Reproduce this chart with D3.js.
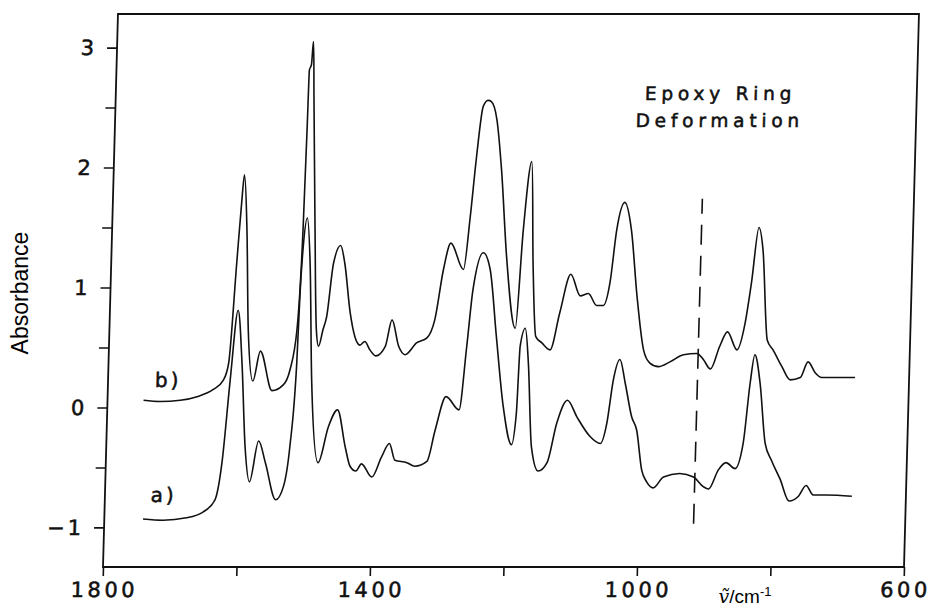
<!DOCTYPE html>
<html>
<meta charset='utf-8'>
<title>Epoxy IR spectra</title>
<style>
  body { margin: 0; background: #fff; }
  .tick text, .plotter { font-family: 'DejaVu Sans', sans-serif; fill: #111; stroke: #111; stroke-width: 0.55; }
  .spec { fill: none; stroke: #111; stroke-width: 1.6; stroke-linejoin: round; }
</style>
<script src='https://d3js.org/d3.v7.min.js'></script>
<body>
<script>

// spectra: [wavenumber /cm-1, absorbance]
var spectrumB = [[1746,0.06],[1721,0.05],[1691,0.06],[1666,0.09],[1642,0.15],[1627,0.23],[1620,0.37],
  [1612,1.20],[1607,1.71],[1604,1.94],[1598,1.48],[1592,0.65],[1583,0.22],[1573,0.47],[1554,0.14],
  [1537,0.19],[1528,0.31],[1519,0.65],[1514,1.48],[1512,2.31],[1511,2.81],[1508,2.86],[1506,3.05],
  [1503,2.59],[1496,1.48],[1490,0.65],[1486,0.51],[1480,0.65],[1475,0.76],[1467,1.20],[1457,1.35],
  [1450,1.20],[1440,0.79],[1432,0.59],[1424,0.52],[1417,0.55],[1409,0.48],[1400,0.43],[1386,0.51],
  [1377,0.73],[1366,0.51],[1356,0.44],[1339,0.54],[1324,0.58],[1313,0.73],[1302,1.15],[1292,1.37],
  [1272,1.15],[1264,1.59],[1257,2.09],[1249,2.51],[1242,2.56],[1237,2.55],[1228,2.40],[1219,1.98],
  [1208,1.26],[1192,0.66],[1184,1.48],[1174,2.05],[1168,1.20],[1161,0.59],[1152,0.54],[1139,0.48],
  [1126,0.79],[1111,1.11],[1096,0.93],[1084,0.95],[1071,0.85],[1061,0.85],[1052,1.04],[1044,1.48],
  [1033,1.71],[1022,1.48],[1011,0.93],[999,0.48],[989,0.37],[976,0.34],[959,0.38],[939,0.44],
  [919,0.45],[909,0.40],[898,0.32],[885,0.51],[874,0.63],[859,0.48],[848,0.70],[840,1.04],
  [831,1.50],[824,1.31],[814,0.56],[805,0.48],[791,0.34],[778,0.23],[763,0.25],[752,0.38],
  [741,0.29],[731,0.25],[709,0.25],[681,0.25]];

var spectrumA = [[1742,-0.93],[1712,-0.94],[1677,-0.92],[1652,-0.87],[1635,-0.77],[1626,-0.46],
  [1617,0.23],[1608,0.81],[1600,0.37],[1592,-0.33],[1584,-0.62],[1572,-0.28],[1561,-0.46],
  [1544,-0.77],[1533,-0.66],[1525,-0.33],[1518,0.37],[1516,0.93],[1513,1.34],[1508,1.58],
  [1502,1.20],[1495,0.23],[1482,-0.46],[1468,-0.16],[1455,-0.02],[1442,-0.33],[1434,-0.49],
  [1425,-0.53],[1417,-0.47],[1401,-0.58],[1387,-0.41],[1376,-0.30],[1367,-0.44],[1349,-0.46],
  [1337,-0.49],[1319,-0.45],[1308,-0.19],[1293,0.09],[1273,-0.02],[1264,0.51],[1257,0.98],
  [1243,1.29],[1232,1.15],[1220,0.59],[1207,0.01],[1193,-0.31],[1187,-0.05],[1184,0.51],
  [1177,0.66],[1171,0.37],[1163,-0.33],[1152,-0.53],[1139,-0.46],[1126,-0.13],[1111,0.06],
  [1096,-0.08],[1076,-0.24],[1060,-0.30],[1051,-0.13],[1043,0.23],[1034,0.40],[1025,0.20],
  [1014,-0.08],[1006,-0.19],[997,-0.52],[989,-0.62],[979,-0.67],[964,-0.58],[940,-0.55],
  [919,-0.58],[904,-0.66],[896,-0.68],[882,-0.52],[871,-0.46],[857,-0.51],[846,-0.30],
  [838,0.20],[832,0.44],[823,0.20],[813,-0.30],[803,-0.44],[789,-0.60],[775,-0.78],
  [761,-0.74],[750,-0.65],[739,-0.73],[719,-0.73],[681,-0.74]];

var xTicks = [1800, 1600, 1400, 1200, 1000, 800, 600];
var xLabelled = [1800, 1400, 1000, 600];
var yTicks = [-1, -0.5, 0, 0.5, 1, 1.5, 2, 2.5, 3];
var yLabelled = [-1, 0, 1, 2, 3];

var epoxyLine = 917;          // dashed marker, cm-1
var epoxyRange = [-0.97, 1.74];
var curveLabels = [{t: 'b)', wn: 1710, a: 0.17}, {t: 'a)', wn: 1712, a: -0.79}];
var note = ['Epoxy Ring', 'Deformation'];

var width = 930, height = 613;
var svg = d3.select('body').append('svg')
    .attr('width', width).attr('height', height);

var x = d3.scaleLinear().domain([1800, 600]).range([103, 904]);
var y = d3.scaleLinear().domain([-1.33, 3.28]).range([567, 14]);

// the scanned figure leans a little to the right
var bottom = y.range()[0];
var plot = svg.append('g')
    .attr('transform', 'translate(0,' + bottom + ') skewX(-1.55) translate(0,' + (-bottom) + ')');

plot.append('rect')
    .attr('x', x(1800)).attr('y', y(3.28))
    .attr('width', x(600) - x(1800)).attr('height', y(-1.33) - y(3.28))
    .attr('fill', 'none').attr('stroke', '#111').attr('stroke-width', 1.8);

var xAxis = d3.axisBottom(x).tickValues(xTicks).tickSize(9).tickPadding(6).tickSizeOuter(0)
    .tickFormat(function(d) { return xLabelled.indexOf(d) >= 0 ? d : ''; });
var gx = plot.append('g').attr('transform', 'translate(0,' + bottom + ')').call(xAxis);
gx.select('.domain').remove();
gx.selectAll('.tick line').attr('stroke', '#111').attr('stroke-width', 1.6);
gx.selectAll('.tick text').style('font-size', '21px').style('letter-spacing', '3.5px')
    .attr('dx', '1.5px');

var yAxis = d3.axisLeft(y).tickValues(yTicks).tickSize(10).tickPadding(10).tickSizeOuter(0)
    .tickFormat(function(d) {
      if (yLabelled.indexOf(d) < 0) return '';
      return d < 0 ? '\u2212' + (-d) : d;
    });
var gy = plot.append('g').attr('transform', 'translate(' + x(1800) + ',0)').call(yAxis);
gy.select('.domain').remove();
gy.selectAll('.tick line').attr('stroke', '#111').attr('stroke-width', 1.6);
gy.selectAll('.tick text').style('font-size', '21px').style('letter-spacing', '3px');

var line = d3.line()
    .x(function(d) { return x(d[0]); })
    .y(function(d) { return y(d[1]); })
    .curve(d3.curveMonotoneX);

plot.selectAll('path.spec')
    .data([spectrumA, spectrumB])
    .enter().append('path')
    .attr('class', 'spec')
    .attr('d', line);

plot.append('line')
    .attr('x1', x(epoxyLine)).attr('x2', x(epoxyLine))
    .attr('y1', y(epoxyRange[0])).attr('y2', y(epoxyRange[1]))
    .attr('stroke', '#111').attr('stroke-width', 1.6)
    .attr('stroke-dasharray', '20,11');

plot.selectAll('text.curve-label')
    .data(curveLabels)
    .enter().append('text')
    .attr('class', 'curve-label plotter')
    .attr('x', function(d) { return x(d.wn); })
    .attr('y', function(d) { return y(d.a); })
    .attr('text-anchor', 'middle')
    .style('font-size', '20px')
    .style('letter-spacing', '3px')
    .text(function(d) { return d.t; });

plot.selectAll('text.note')
    .data(note)
    .enter().append('text')
    .attr('class', 'note plotter')
    .attr('x', x(894))
    .attr('y', function(d, i) { return y(2.564 - i * 0.225); })
    .attr('text-anchor', 'middle')
    .style('font-size', '18.5px')
    .style('letter-spacing', '4.8px')
    .text(function(d) { return d; });

// axis titles
svg.append('text')
    .attr('transform', 'translate(28,293) rotate(-90)')
    .attr('text-anchor', 'middle')
    .style('font-family', "'Liberation Sans Narrow', 'Liberation Sans', sans-serif")
    .style('font-size', '23px')
    .text('Absorbance');

var xt = svg.append('text')
    .attr('x', 745).attr('y', 603)
    .attr('text-anchor', 'middle')
    .style('font-family', "'Liberation Sans', sans-serif")
    .style('font-size', '19px');
xt.append('tspan').style('font-style', 'italic').style('font-family', "'DejaVu Serif', serif").text('\u1e7d');
xt.append('tspan').text('/cm');
xt.append('tspan').attr('dy', '-7').style('font-size', '13px').text('-1');

</script>
</body>
</html>
